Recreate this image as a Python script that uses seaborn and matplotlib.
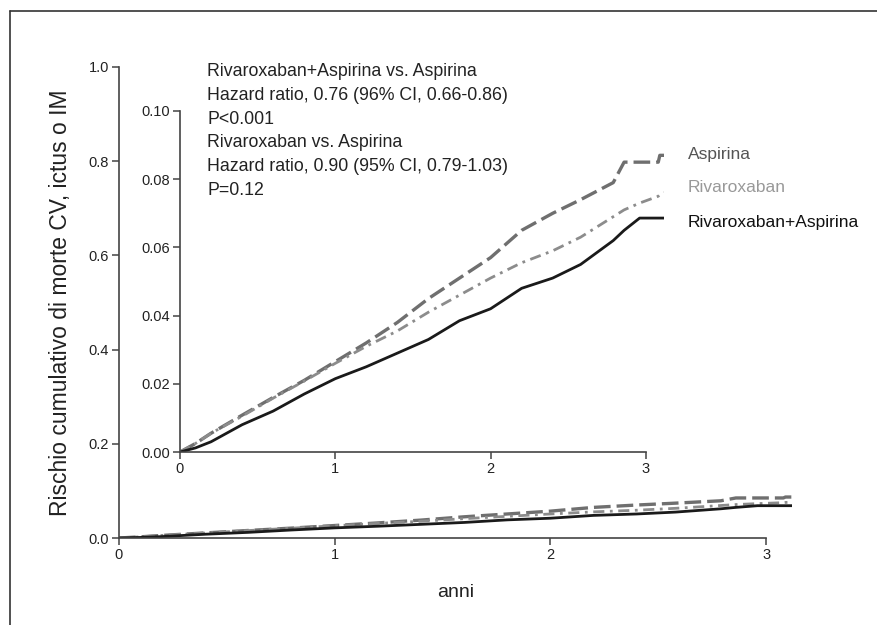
import pandas as pd
import seaborn as sns
import matplotlib.pyplot as plt
from matplotlib.lines import Line2D

# anni di follow-up e rischio cumulativo
anni = [0, 0.1, 0.2, 0.4, 0.6, 0.8, 1.0, 1.2, 1.4, 1.6, 1.8, 2.0, 2.2, 2.4,
        2.58, 2.79, 2.86, 2.96, 3.08, 3.09, 3.12]
aspirina = [0, 0.0025, 0.0055, 0.0108, 0.016, 0.021, 0.0265, 0.032, 0.038, 0.045,
            0.051, 0.057, 0.065, 0.070, 0.074, 0.079, 0.085, 0.085, 0.085, 0.087, 0.087]
rivaroxaban = [0, 0.0025, 0.0055, 0.0105, 0.0158, 0.0208, 0.026, 0.031, 0.0355, 0.041,
               0.046, 0.051, 0.0555, 0.059, 0.063, 0.069, 0.071, 0.073, 0.075, 0.0755, 0.076]
riva_asp = [0, 0.0012, 0.003, 0.008, 0.012, 0.017, 0.0215, 0.025, 0.029, 0.033,
            0.0385, 0.042, 0.048, 0.051, 0.055, 0.062, 0.065, 0.0686, 0.0686, 0.0686, 0.0686]

main_yticks = [0.0, 0.2, 0.4, 0.6, 0.8, 1.0]
inset_yticks = [0.00, 0.02, 0.04, 0.06, 0.08, 0.10]
xticks = [0, 1, 2, 3]

testo = ["Rivaroxaban+Aspirina vs. Aspirina",
         "Hazard ratio, 0.76 (96% CI, 0.66-0.86)",
         "P<0.001",
         "Rivaroxaban vs. Aspirina",
         "Hazard ratio, 0.90 (95% CI, 0.79-1.03)",
         "P=0.12"]

sns.set_theme(style="white")
plt.rcParams['font.family'] = ['Liberation Sans', 'DejaVu Sans']

series = [
    ("Aspirina", aspirina, "#6f6f6f", (5, 1.8), 2.4),
    ("Rivaroxaban", rivaroxaban, "#8c8c8c", (4, 2, 1, 2), 2.0),
    ("Rivaroxaban+Aspirina", riva_asp, "#1a1a1a", None, 2.0),
]

fig = plt.figure(figsize=(8.78, 6.25), dpi=100)
ax = fig.add_axes([0.1355, 0.1392, 0.7665, 0.7536])
ins = fig.add_axes([0.2050, 0.2768, 0.5518, 0.5456])


def draw(a):
    for nome, vals, col, dash, lw in series:
        df = pd.DataFrame({"anni": anni, "rischio": vals})
        sns.lineplot(data=df, x="anni", y="rischio", ax=a, color=col, linewidth=lw)
        line = a.get_lines()[-1]
        if dash is not None:
            line.set_dashes(dash)


def style(a, yticks, fmt):
    a.set_xlim(0, 3.12)
    a.set_ylim(0, yticks[-1])
    a.set_xticks(xticks)
    a.set_xticklabels([str(x) for x in xticks])
    a.set_yticks(yticks)
    a.set_yticklabels([fmt.format(v) for v in yticks])
    for s in ["top", "right"]:
        a.spines[s].set_visible(False)
    for s in ["left", "bottom"]:
        a.spines[s].set_color("#444444")
        a.spines[s].set_linewidth(1.2)
    a.spines["bottom"].set_bounds(0, 3)
    a.spines["left"].set_bounds(0, yticks[-1])
    a.tick_params(direction="out", length=5, width=1.1, color="#444444",
                  labelsize=10.5, labelcolor="#222222", pad=2, left=True, bottom=True)
    a.set_xlabel("")
    a.set_ylabel("")
    a.patch.set_alpha(0)


draw(ax)
style(ax, main_yticks, "{:.1f}")
draw(ins)
style(ins, inset_yticks, "{:.2f}")

ax.set_xlabel("anni", fontsize=14, color="#222222", labelpad=16)
ax.set_ylabel("Rischio cumulativo di morte CV, ictus o IM", fontsize=16.5,
              color="#222222", labelpad=12)

for i, riga in enumerate(testo):
    fig.text(0.236, 1 - (72 + i * 23.6) / 625, riga, fontsize=12.8,
             color="#222222", va="center")

etichette = [("Aspirina", 155, "#555555"),
             ("Rivaroxaban", 188, "#999999"),
             ("Rivaroxaban+Aspirina", 222, "#111111")]
for nome, ypx, col in etichette:
    fig.text(688 / 878, 1 - ypx / 625, nome, fontsize=12.5, color=col, va="center")

# cornice del pannello
fig.add_artist(Line2D([10 / 878, 1], [1 - 11 / 625, 1 - 11 / 625], color="#333333", lw=1.2))
fig.add_artist(Line2D([10 / 878, 10 / 878], [0, 1 - 11 / 625], color="#333333", lw=1.2))

plt.savefig("out.png", dpi=100)
plt.close()
